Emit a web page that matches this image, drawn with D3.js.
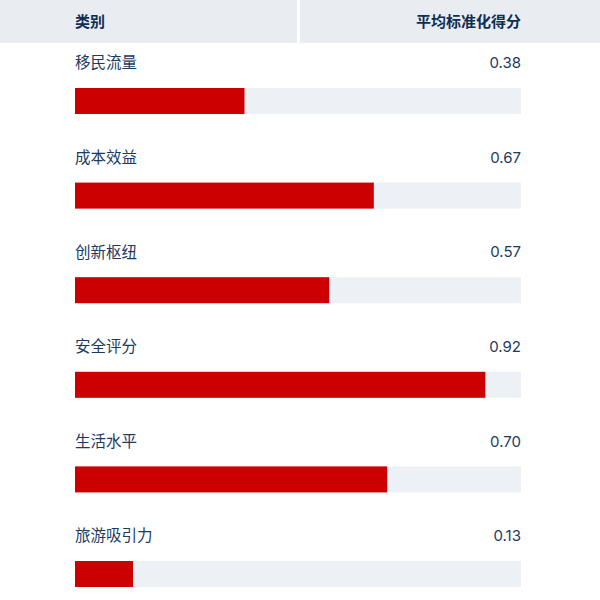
<!DOCTYPE html>
<html>
<head>
<meta charset="utf-8">
<script src="https://cdn.jsdelivr.net/npm/d3@7"></script>
<style>
  body { margin: 0; background: #fff; }
  svg { display: block; font-family: "Inter", "Noto Sans CJK SC", sans-serif; }
</style>
</head>
<body>
<div id="chart"></div>
<script>
// data
const categories = ["移民流量", "成本效益", "创新枢纽", "安全评分", "生活水平", "旅游吸引力"];
const scores = [0.38, 0.67, 0.57, 0.92, 0.70, 0.13];
const headers = ["类别", "平均标准化得分"];

const width = 600, height = 600;
const headerH = 43;
const rowH = 94.6;
const barH = 26;

const svg = d3.select("#chart")
  .append("svg")
  .attr("width", width)
  .attr("height", height);

const x = d3.scaleLinear().domain([0, 1]).range([75, 521]);
const y = d3.scaleBand()
  .domain(categories)
  .range([45, 45 + rowH * categories.length])
  .padding(0);

// header cells
svg.append("rect").attr("x", 0).attr("y", 0).attr("width", 297).attr("height", headerH).attr("fill", "#e9edf2");
svg.append("rect").attr("x", 300).attr("y", 0).attr("width", 300).attr("height", headerH).attr("fill", "#e9edf2");

svg.append("text")
  .attr("x", x(0))
  .attr("y", 22)
  .attr("dy", "0.35em")
  .attr("font-size", 15)
  .attr("font-weight", "bold")
  .attr("fill", "#0f2d55")
  .text(headers[0]);

svg.append("text")
  .attr("x", x(1))
  .attr("y", 22)
  .attr("dy", "0.35em")
  .attr("text-anchor", "end")
  .attr("font-size", 15)
  .attr("font-weight", "bold")
  .attr("fill", "#0f2d55")
  .text(headers[1]);

const data = categories.map((c, i) => ({ category: c, score: scores[i] }));

const rows = svg.selectAll(".row")
  .data(data)
  .enter()
  .append("g")
  .attr("class", "row")
  .attr("transform", d => `translate(0,${y(d.category)})`);

// label + value
rows.append("text")
  .attr("x", x(0))
  .attr("y", 18)
  .attr("dy", "0.35em")
  .attr("font-size", 15.5)
  .attr("fill", "#1d3a60")
  .text(d => d.category);

rows.append("text")
  .attr("x", x(1))
  .attr("y", 18)
  .attr("dy", "0.35em")
  .attr("text-anchor", "end")
  .attr("font-size", 15)
  .attr("fill", "#1d3a60")
  .text(d => d3.format(".2f")(d.score));

// track
rows.append("rect")
  .attr("x", x(0))
  .attr("y", 43)
  .attr("width", x(1) - x(0))
  .attr("height", barH)
  .attr("fill", "#edf0f5");

// value bar
rows.append("rect")
  .attr("x", x(0))
  .attr("y", 43)
  .attr("width", d => x(d.score) - x(0))
  .attr("height", barH)
  .attr("fill", "#cc0000");
</script>
</body>
</html>
